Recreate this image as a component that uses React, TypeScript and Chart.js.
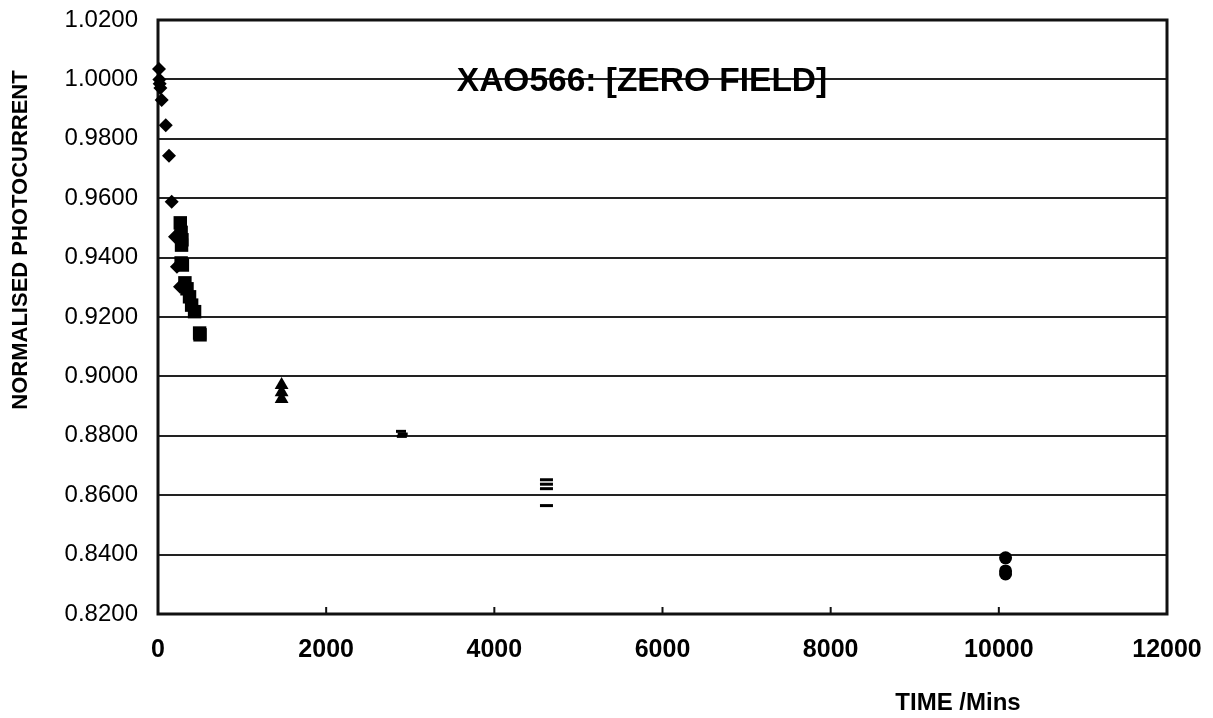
import React, { useEffect, useRef } from "react";
import { Chart, registerables } from "chart.js";

Chart.register(...registerables);

// Series 1 (diamonds)
const s1X = [12, 16, 20, 28, 44, 92, 131, 163, 202, 225, 262];
const s1Y = [1.0035, 1.0000, 0.9985, 0.9971, 0.9931, 0.9846, 0.9743, 0.9588, 0.9470, 0.9369, 0.9302];
// Series 2 (squares)
const s2X = [265, 275, 285, 280, 275, 290, 320, 345, 375, 400, 435, 495, 500];
const s2Y = [0.9517, 0.9485, 0.9460, 0.9442, 0.9382, 0.9375, 0.9315, 0.9295, 0.9268, 0.9240, 0.9218, 0.9146, 0.9140];
// Series 3 (triangles)
const s3X = [1470, 1470, 1470];
const s3Y = [0.8971, 0.8947, 0.8924];
// Series 4 (small dashes)
const s4X = [2890, 2910, 2900];
const s4Y = [0.8815, 0.8806, 0.8798];
// Series 5 (dashes)
const s5X = [4620, 4620, 4620, 4620];
const s5Y = [0.8652, 0.8637, 0.8622, 0.8565];
// Series 6 (circles)
const s6X = [10080, 10080, 10080];
const s6Y = [0.8389, 0.8345, 0.8335];

const xTicks = [0, 2000, 4000, 6000, 8000, 10000, 12000];
const yMin = 0.82;
const yMax = 1.02;
const yStep = 0.02;

const titleText = "XAO566: [ZERO FIELD]";
const yTitle = "NORMALISED PHOTOCURRENT";
const xTitle = "TIME /Mins";

function pts(xs: number[], ys: number[]) {
  return xs.map((x, i) => ({ x, y: ys[i] }));
}

const FONT = '"Liberation Sans", Arial, sans-serif';

const overlay = {
  id: "overlay",
  beforeDatasetsDraw(chart: any) {
    const { ctx, chartArea } = chart;
    const xs = chart.scales.x;
    ctx.save();
    ctx.strokeStyle = "#111";
    ctx.lineWidth = 3;
    ctx.strokeRect(chartArea.left, chartArea.top, chartArea.right - chartArea.left, chartArea.bottom - chartArea.top);
    ctx.lineWidth = 2;
    xTicks.forEach((t) => {
      const px = xs.getPixelForValue(t);
      ctx.beginPath();
      ctx.moveTo(px, chartArea.bottom);
      ctx.lineTo(px, chartArea.bottom - 7);
      ctx.stroke();
    });
    ctx.restore();
  },
  afterDraw(chart: any) {
    const { ctx } = chart;
    ctx.save();
    ctx.fillStyle = "#000";
    ctx.textAlign = "center";
    ctx.textBaseline = "middle";
    ctx.font = "bold 33.5px " + FONT;
    ctx.fillText(titleText, 642, 82);
    ctx.font = "bold 24px " + FONT;
    ctx.fillText(xTitle, 958, 703);
    ctx.translate(21, 240);
    ctx.rotate(-Math.PI / 2);
    ctx.font = "bold 22px " + FONT;
    ctx.fillText(yTitle, 0, 0);
    ctx.restore();
  },
};

export default function App() {
  const ref = useRef<HTMLCanvasElement>(null);
  useEffect(() => {
    if (!ref.current) return;
    const common = { showLine: false, backgroundColor: "#000", borderColor: "#000", clip: false as any };
    const chart = new Chart(ref.current, {
      type: "scatter",
      data: {
        datasets: [
          { ...common, data: pts(s1X, s1Y), pointStyle: "rectRot", pointRadius: 7, borderWidth: 0 },
          { ...common, data: pts(s2X, s2Y), pointStyle: "rect", pointRadius: 9.5, borderWidth: 0 },
          { ...common, data: pts(s3X, s3Y), pointStyle: "triangle", pointRadius: 8, borderWidth: 0 },
          { ...common, data: pts(s4X, s4Y), pointStyle: "line", pointRadius: 5, borderWidth: 3 },
          { ...common, data: pts(s5X, s5Y), pointStyle: "line", pointRadius: 6.5, borderWidth: 3 },
          { ...common, data: pts(s6X, s6Y), pointStyle: "circle", pointRadius: 6.5, borderWidth: 0 },
        ],
      },
      options: {
        animation: false,
        responsive: true,
        maintainAspectRatio: false,
        layout: { padding: { left: 0, top: 20, right: 46, bottom: 0 } },
        plugins: { legend: { display: false }, tooltip: { enabled: false } },
        scales: {
          x: {
            type: "linear",
            min: 0,
            max: 12000,
            afterBuildTicks: (s: any) => {
              s.ticks = xTicks.map((v) => ({ value: v }));
            },
            afterFit: (s: any) => {
              s.height = 104;
              s.paddingLeft = 0;
              s.paddingRight = 0;
            },
            grid: { display: false, drawTicks: false },
            border: { display: false },
            ticks: {
              padding: 21,
              color: "#000",
              font: { family: FONT, size: 25, weight: "bold" },
              maxRotation: 0,
              callback: (v: any) => String(v),
            },
          },
          y: {
            type: "linear",
            min: yMin,
            max: yMax,
            afterFit: (s: any) => {
              s.width = 158;
              s.paddingTop = 0;
              s.paddingBottom = 0;
            },
            grid: { color: "#222", lineWidth: 2, drawTicks: false },
            border: { display: false },
            ticks: {
              stepSize: yStep,
              padding: 20,
              color: "#000",
              font: { family: FONT, size: 24 },
              callback: (v: any) => Number(v).toFixed(4),
            },
          },
        },
      },
      plugins: [overlay],
    });
    return () => chart.destroy();
  }, []);
  return (
    <div style={{ position: "absolute", left: 0, top: 0, width: 1213, height: 718, background: "#fff" }}>
      <canvas ref={ref} />
    </div>
  );
}
